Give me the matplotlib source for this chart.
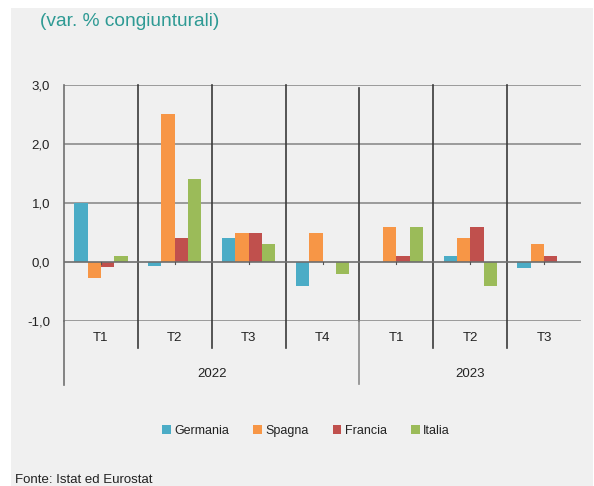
import numpy as np
import matplotlib
matplotlib.use('Agg')
import matplotlib.pyplot as plt
from matplotlib.patches import Rectangle
import matplotlib.transforms as mtransforms

plt.rcParams['font.family'] = ['Liberation Sans', 'DejaVu Sans']

# data
quarters = ['T1', 'T2', 'T3', 'T4', 'T1', 'T2', 'T3']
years = ['2022', '2023']
year_span = [4, 3]
countries = ['Germania', 'Spagna', 'Francia', 'Italia']
germania = [1.0, -0.07, 0.4, -0.4, 0.0, 0.1, -0.1]
spagna = [-0.27, 2.5, 0.5, 0.5, 0.6, 0.4, 0.3]
francia = [-0.08, 0.4, 0.5, 0.0, 0.1, 0.6, 0.1]
italia = [0.1, 1.4, 0.3, -0.2, 0.6, -0.4, 0.0]
colors = ['#4bacc6', '#f79646', '#c0504d', '#9bbb59']

W, H = 594, 486
fig = plt.figure(figsize=(W / 100, H / 100), dpi=100)
fig.patch.set_facecolor('white')
bg = '#f0f0f0'
fig.patches.append(Rectangle((11 / W, 0), (593 - 11) / W, 1 - 8 / H,
                             transform=fig.transFigure, facecolor=bg,
                             edgecolor='none', zorder=-10))

ax_l, ax_r, ax_t, ax_b = 64, 581, 85, 321
ax = fig.add_axes([ax_l / W, 1 - ax_b / H, (ax_r - ax_l) / W, (ax_b - ax_t) / H])
ax.set_facecolor(bg)

n = len(quarters)
x = np.arange(n)
bw = 0.18
series = [germania, spagna, francia, italia]
for i, (vals, c, name) in enumerate(zip(series, colors, countries)):
    ax.bar(x + (i - 1.5) * bw, vals, bw, color=c, label=name, zorder=3)

ax.set_xlim(-0.5, n - 0.5)
ax.set_ylim(-1, 3)
ax.set_yticks([-1, 0, 1, 2, 3])
ax.set_yticklabels(['-1,0', '0,0', '1,0', '2,0', '3,0'], fontsize=9.5, color='#222222')
ax.tick_params(axis='y', length=0, pad=10)
ax.set_xticks([])
for s in ['top', 'right', 'bottom']:
    ax.spines[s].set_visible(False)
ax.spines['left'].set_color('#707070')
ax.spines['left'].set_linewidth(1.2)

for yv in [-1, 1, 2, 3]:
    ax.axhline(yv, color='#8c8c8c', lw=1.2, zorder=1)
ax.axhline(0, color='#6e6e6e', lw=1.2, zorder=4)

# small ticks on the zero line
for xi in x:
    ax.plot([xi, xi], [0, -0.04], color='#555555', lw=0.8, zorder=4)

trans = mtransforms.blended_transform_factory(ax.transData, ax.transAxes)
ax_h = ax_b - ax_t
def yfrac(py):
    return (ax_b - py) / ax_h

# category dividers
for b in np.arange(0.5, n - 0.5):
    if b == 3.5:
        ax.plot([b, b], [yfrac(88), 0], color='#3a3a3a', lw=1.2, transform=trans, clip_on=False)
        ax.plot([b, b], [0, yfrac(384)], color='#8a8a8a', lw=1.2, transform=trans, clip_on=False)
    else:
        ax.plot([b, b], [1, yfrac(348)], color='#3a3a3a', lw=1.2, transform=trans, clip_on=False)
ax.plot([-0.5, -0.5], [0, yfrac(385)], color='#707070', lw=1.2, transform=trans, clip_on=False)

for xi, q in zip(x, quarters):
    ax.text(xi, yfrac(338), q, transform=trans, ha='center', va='center',
            fontsize=9.5, color='#222222')

start = 0
for yr, span in zip(years, year_span):
    ax.text(start + (span - 1) / 2, yfrac(374), yr, transform=trans, ha='center',
            va='center', fontsize=9.5, color='#222222')
    start += span

fig.text(40 / W, 1 - 21 / H, '(var. % congiunturali)', fontsize=13.8, color='#2e9a94',
         ha='left', va='center')

fig.legend(loc='center', bbox_to_anchor=(306 / W, 1 - 431 / H), ncol=4, frameon=False,
           fontsize=9, handlelength=0.7, handleheight=0.7, handletextpad=0.3,
           columnspacing=1.9, labelcolor='#222222')

fig.text(15 / W, 1 - 480 / H, 'Fonte: Istat ed Eurostat', fontsize=9.5, color='#222222',
         ha='left', va='center')

fig.savefig('out.png', dpi=100, facecolor=fig.get_facecolor())
